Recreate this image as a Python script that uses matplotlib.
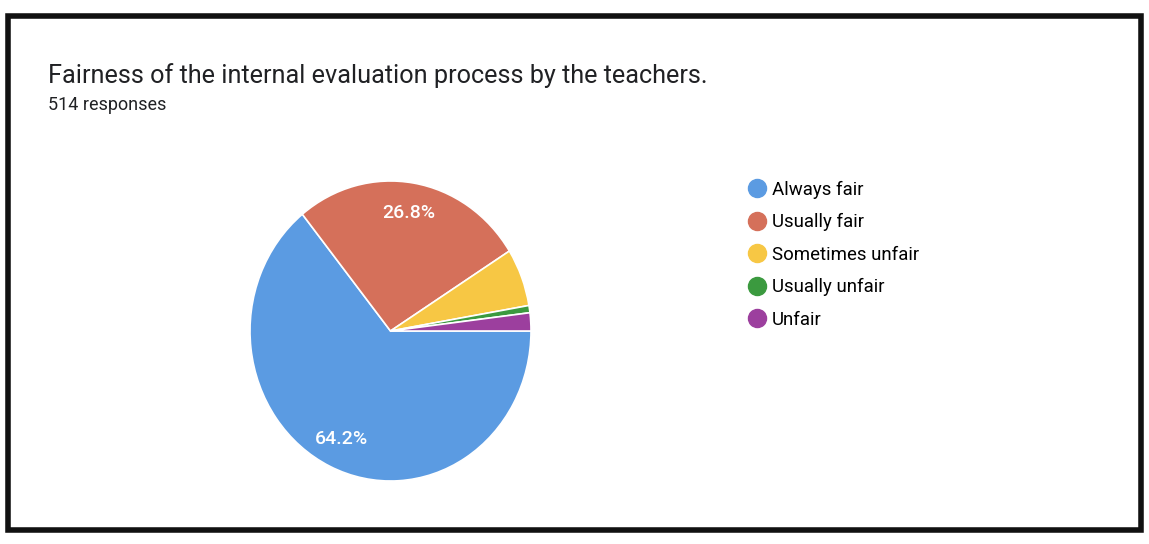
import matplotlib.pyplot as plt
from matplotlib.lines import Line2D
from matplotlib.patches import Rectangle

# survey answers (514 responses)
labels = ["Always fair", "Usually fair", "Sometimes unfair", "Usually unfair", "Unfair"]
counts = [330, 138, 32, 4, 10]
colors = ["#5b9be2", "#d5705a", "#f7c744", "#3b9a3f", "#9c3f9e"]

title = "Fairness of the internal evaluation process by the teachers."
subtitle = "514 responses"

plt.rcParams['font.family'] = ['Roboto', 'DejaVu Sans']

fig = plt.figure(figsize=(11.49, 5.44), dpi=100)
fig.patch.set_facecolor('white')

# black frame round the card
fig.patches.append(Rectangle((8 / 1149, 14 / 544), 1133 / 1149, 514 / 544,
                             transform=fig.transFigure, fill=False,
                             edgecolor='#111111', linewidth=4))

fig.text(48 / 1149, 1 - 76 / 544, title, fontsize=18.2, color='#202124', va='center')
fig.text(48 / 1149, 1 - 105 / 544, subtitle, fontsize=13, color='#202124', va='center')

# the photo squeezes the pie a little sideways, so no equal aspect
ax = fig.add_axes([250 / 1149, 63 / 544, 281 / 1149, 300 / 544])

def show_pct(p):
    # only the big slices get a label, like google forms
    return f"{p:.1f}%" if p > 10 else ""

wedges, texts, autotexts = ax.pie(counts, colors=colors, startangle=0, counterclock=False,
                                  autopct=show_pct, pctdistance=0.8,
                                  wedgeprops=dict(edgecolor='white', linewidth=1.2),
                                  textprops=dict(color='white', fontsize=14, fontweight='medium'))
ax.set_xlim(-1.0, 1.0)
ax.set_ylim(-1.0, 1.0)
ax.set_aspect('auto')

handles = [Line2D([], [], marker='o', linestyle='', markersize=13,
                  markerfacecolor=c, markeredgecolor=c) for c in colors]
fig.legend(handles, labels, loc='upper left', bbox_to_anchor=(738 / 1149, 1 - 173 / 544),
           frameon=False, fontsize=13.4, handletextpad=0.2, labelspacing=0.78,
           handlelength=1.2, borderaxespad=0)

fig.savefig('out.png', dpi=100, facecolor='white')
